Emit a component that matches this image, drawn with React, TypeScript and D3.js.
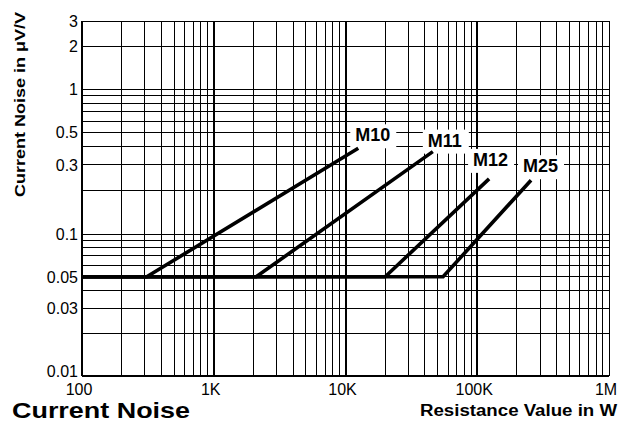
import React from "react";
import * as d3 from "d3";

// ---- data ----
const seriesNames = ["M10", "M11", "M12", "M25"];
const startResistance = 100;
const flatNoise = 0.05;
const breakResistance = [310, 2100, 20000, 55000];
const endResistance = [12500, 46000, 123000, 256000];
const endNoise = [0.39, 0.37, 0.24, 0.235];

const xTickValues = [100, 1e3, 1e4, 1e5, 1e6];
const xTickLabels = ["100", "1K", "10K", "100K", "1M"];
const yTickValues = [3, 2, 1, 0.5, 0.3, 0.1, 0.05, 0.03, 0.01];
const yTickLabels = ["3", "2", "1", "0.5", "0.3", "0.1", "0.05", "0.03", "0.01"];

// ---- layout ----
const W = 628;
const H = 422;
const left = 82;
const right = 609;
const top = 21;
const bottom = 376;
const labelOffsets = [
  [-3, -7],
  [-5, -5],
  [-16, -13],
  [-8, -8],
];
const FONT = "'Liberation Sans', Arial, Helvetica, sans-serif";

export default function App() {
  const x = d3.scaleLog().domain([100, 1e6]).range([left, right]);
  const y = d3
    .scaleLog()
    .domain([0.01, 0.1, 1, 3])
    .range([bottom, 234, 89, top]);

  const xGrid: number[] = [];
  [100, 1e3, 1e4, 1e5].forEach((b) => {
    for (let k = 1; k <= 9; k++) xGrid.push(k * b);
  });
  xGrid.push(1e6);
  const yGrid: number[] = [];
  [0.01, 0.1, 1].forEach((b) => {
    for (let k = 1; k <= 9; k++) {
      const v = k * b;
      if (v <= 3.0001) yGrid.push(v);
    }
  });

  const line = d3
    .line<[number, number]>()
    .x((d) => x(d[0]))
    .y((d) => y(d[1]));

  const series = seriesNames.map((name, i) => ({
    name,
    pts: [
      [startResistance, flatNoise],
      [breakResistance[i], flatNoise],
      [endResistance[i], endNoise[i]],
    ] as [number, number][],
    end: [x(endResistance[i]), y(endNoise[i])],
    off: labelOffsets[i],
  }));

  const isDecade = (v: number) => Math.abs(Math.log10(v) - Math.round(Math.log10(v))) < 1e-9;

  return (
    <svg
      width={W}
      height={H}
      style={{ position: "absolute", left: 0, top: 0, background: "#fff" }}
    >
      <rect x={0} y={0} width={W} height={H} fill="#fff" />
      <g shapeRendering="crispEdges">
        {xGrid.map((v, i) => (
          <line
            key={"xg" + i}
            x1={x(v)}
            x2={x(v)}
            y1={top}
            y2={bottom}
            stroke="#000"
            strokeWidth={isDecade(v) && v > 100 && v < 1e6 ? 2 : 1}
          />
        ))}
        {yGrid.map((v, i) => (
          <line
            key={"yg" + i}
            x1={left}
            x2={right}
            y1={y(v)}
            y2={y(v)}
            stroke="#000"
            strokeWidth={1}
          />
        ))}
        <line x1={left} x2={left} y1={top} y2={bottom} stroke="#000" strokeWidth={2} />
        <line x1={left} x2={right} y1={bottom} y2={bottom} stroke="#000" strokeWidth={2} />
        <line x1={left} x2={right} y1={top} y2={top} stroke="#000" strokeWidth={1} />
        <line x1={right} x2={right} y1={top} y2={bottom} stroke="#000" strokeWidth={1} />
      </g>

      {series.map((s) => (
        <rect
          key={"bx" + s.name}
          x={s.end[0] + s.off[0] - 5}
          y={s.end[1] + s.off[1] - 17}
          width={46}
          height={24}
          fill="#fff"
        />
      ))}

      {series.map((s) => (
        <path
          key={"p" + s.name}
          d={line(s.pts) || ""}
          fill="none"
          stroke="#000"
          strokeWidth={3.6}
        />
      ))}

      {series.map((s) => (
        <text
          key={"t" + s.name}
          x={s.end[0] + s.off[0]}
          y={s.end[1] + s.off[1]}
          fontFamily={FONT}
          fontWeight="bold"
          fontSize={18}
          fill="#000"
        >
          {s.name}
        </text>
      ))}

      {yTickValues.map((v, i) => (
        <text
          key={"yt" + i}
          x={78}
          y={y(v)}
          dy={v === 0.01 ? "0.05em" : "0.36em"}
          textAnchor="end"
          fontFamily={FONT}
          fontSize={16}
          fill="#000"
        >
          {yTickLabels[i]}
        </text>
      ))}
      {xTickValues.map((v, i) => (
        <text
          key={"xt" + i}
          x={x(v) - 3}
          y={395}
          textAnchor="middle"
          fontFamily={FONT}
          fontSize={16}
          fill="#000"
        >
          {xTickLabels[i]}
        </text>
      ))}

      <text
        x={12}
        y={418}
        fontFamily={FONT}
        fontWeight="bold"
        fontSize={21.5}
        textLength={178}
        lengthAdjust="spacingAndGlyphs"
        fill="#000"
      >
        Current Noise
      </text>
      <text
        x={420}
        y={416}
        fontFamily={FONT}
        fontWeight="bold"
        fontSize={16}
        textLength={197}
        lengthAdjust="spacingAndGlyphs"
        fill="#000"
      >
        Resistance Value in W
      </text>
      <text
        transform="translate(25,197) rotate(-90)"
        x={0}
        y={0}
        fontFamily={FONT}
        fontWeight="bold"
        fontSize={14}
        textLength={185}
        lengthAdjust="spacingAndGlyphs"
        fill="#000"
      >
        Current Noise in μV/V
      </text>
    </svg>
  );
}
